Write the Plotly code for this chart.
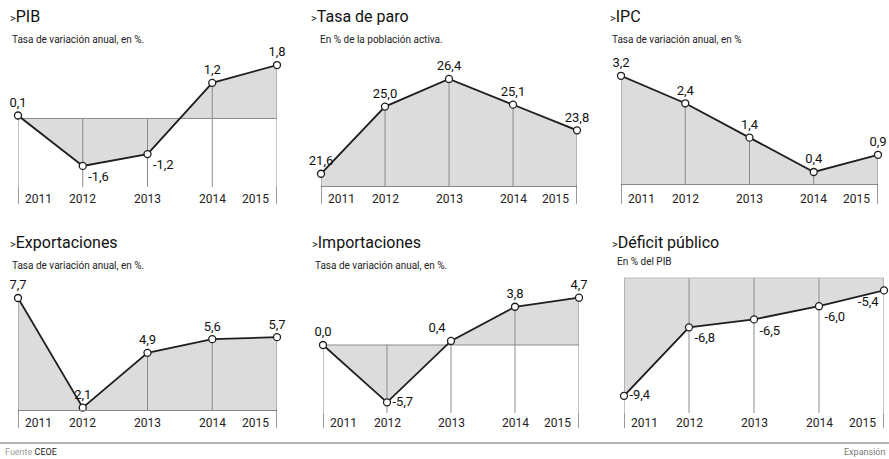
import plotly.graph_objects as go

W, H = 889, 459

years = [2011, 2012, 2013, 2014, 2015]
pib = [0.1, -1.6, -1.2, 1.2, 1.8]
paro = [21.6, 25.0, 26.4, 25.1, 23.8]
ipc = [3.2, 2.4, 1.4, 0.4, 0.9]
exportaciones = [7.7, 2.1, 4.9, 5.6, 5.7]
importaciones = [0.0, -5.7, 0.4, 3.8, 4.7]
deficit = [-9.4, -6.8, -6.5, -6.0, -5.4]

titles = ["PIB", "Tasa de paro", "IPC", "Exportaciones", "Importaciones", "Déficit público"]
subtitles = ["Tasa de variación anual, en %.", "En % de la población activa.",
             "Tasa de variación anual, en %", "Tasa de variación anual, en %.",
             "Tasa de variación anual, en %.", "En % del PIB"]

series = [pib, paro, ipc, exportaciones, importaciones, deficit]

FONT = "Roboto, sans-serif"

panels = [
    dict(x0=18, x1=277, top=60, bot=187, rng=[-2.31, 1.97],
         tp=["top center", "bottom right", "bottom right", "top center", "top center"],
         tx=8, sx=10, ty=16, sy=39, ly=199, zero=True, axis=False),
    dict(x0=321, x1=577, top=60, bot=186, rng=[20.98, 27.36],
         tp=["top center"] * 5, tx=309, sx=318, ty=16, sy=39, ly=199, zero=False, axis=True),
    dict(x0=621, x1=878, top=60, bot=184, rng=[0.05, 3.66],
         tp=["top center"] * 5, tx=608, sx=610, ty=16, sy=39, ly=199, zero=False, axis=True),
    dict(x0=18, x1=277, top=280, bot=410, rng=[1.98, 8.62],
         tp=["top center"] * 5, tx=8, sx=10, ty=242, sy=265, ly=423, zero=False, axis=True),
    dict(x0=323, x1=579, top=280, bot=413, rng=[-6.76, 6.46],
         tp=["top center", "middle right", "top left", "top center", "top center"],
         tx=310, sx=313, ty=242, sy=265, ly=423, zero=True, axis=False),
    dict(x0=624, x1=884, top=278, bot=413, rng=[-10.05, -4.93],
         tp=["middle right", "bottom right", "bottom right", "bottom right", "bottom left"],
         tx=610, sx=615, ty=242, sy=261, ly=423, zero=False, axis=False),
]

def px_x(p):
    return p / W

def px_y(p):
    return 1 - p / H

fig = go.Figure()
shapes = []
annotations = []
LINE = "#1e1e1e"
FILL = "#dcdcdc"
GRID = "#8a8a8a"

for i, (vals, cfg) in enumerate(zip(series, panels)):
    n = i + 1
    xa = "x" if n == 1 else f"x{n}"
    ya = "y" if n == 1 else f"y{n}"
    lo, hi = cfg["rng"]
    labels = [f"{v:.1f}".replace(".", ",") for v in vals]
    # filled area
    fig.add_trace(go.Scatter(
        x=years, y=vals, xaxis=xa, yaxis=ya, mode="lines",
        line=dict(width=0), fill="tozeroy", fillcolor=FILL,
        hoverinfo="skip", showlegend=False))
    # vertical guides
    vx, vy = [], []
    for yr, v in zip(years, vals):
        top_v = min(max(v, 0) if lo < 0 else v, hi)
        vx += [yr, yr, None]
        vy += [lo, top_v, None]
    fig.add_trace(go.Scatter(
        x=vx, y=vy, xaxis=xa, yaxis=ya, mode="lines",
        line=dict(color=GRID, width=1), hoverinfo="skip", showlegend=False))
    if cfg["zero"]:
        fig.add_trace(go.Scatter(
            x=[years[0], years[-1]], y=[0, 0], xaxis=xa, yaxis=ya, mode="lines",
            line=dict(color=GRID, width=1), hoverinfo="skip", showlegend=False))
    # main line
    fig.add_trace(go.Scatter(
        x=years, y=vals, xaxis=xa, yaxis=ya, mode="lines+markers+text",
        line=dict(color=LINE, width=1.8),
        marker=dict(size=7, color="white", line=dict(color=LINE, width=1.3)),
        text=labels, textposition=cfg["tp"],
        textfont=dict(family=FONT, size=13, color="#111"),
        cliponaxis=False, hoverinfo="skip", showlegend=False,
    ))
    fig.update_layout(**{
        ("xaxis" if n == 1 else f"xaxis{n}"): dict(
            domain=[px_x(cfg["x0"]), px_x(cfg["x1"])], range=[2011, 2015],
            anchor=ya, showgrid=False, zeroline=False, showticklabels=False,
            ticks="", showline=cfg["axis"], linecolor=GRID, linewidth=1),
        ("yaxis" if n == 1 else f"yaxis{n}"): dict(
            domain=[px_y(cfg["bot"]), px_y(cfg["top"])], range=[lo, hi],
            anchor=xa, showgrid=False, zeroline=False, showticklabels=False,
            ticks="", showline=False),
    })
    for yr in (years[0], years[-1]):
        shapes.append(dict(type="line", xref=xa, yref="paper", x0=yr, x1=yr,
                           y0=px_y(cfg["bot"]), y1=px_y(cfg["ly"] + 5),
                           line=dict(color="#555", width=1.2)))
    if n == 6:
        shapes.append(dict(type="line", xref=xa, yref="paper", x0=years[0], x1=years[-1],
                           y0=px_y(cfg["top"]), y1=px_y(cfg["top"]),
                           line=dict(color="#bbbbbb", width=1)))
    for j, yr in enumerate(years):
        if j == 0:
            xan, xs = "left", 5
        elif j == len(years) - 1:
            xan, xs = "right", -6
        else:
            xan, xs = "center", 0
        annotations.append(dict(x=yr, y=px_y(cfg["ly"]), xref=xa, yref="paper",
                                text=str(yr), showarrow=False, xanchor=xan, xshift=xs,
                                yanchor="middle",
                                font=dict(family=FONT, size=12, color="#222")))
    annotations.append(dict(x=px_x(cfg["tx"]), y=px_y(cfg["ty"]), xref="paper", yref="paper",
                            text="<span style='font-size:11px'>&gt;</span>" + titles[i],
                            showarrow=False, xanchor="left", yanchor="middle",
                            font=dict(family=FONT, size=16, color="#111")))
    annotations.append(dict(x=px_x(cfg["sx"]), y=px_y(cfg["sy"]), xref="paper", yref="paper",
                            text=subtitles[i], showarrow=False, xanchor="left", yanchor="middle",
                            font=dict(family=FONT, size=10, color="#222")))

shapes.append(dict(type="line", xref="paper", yref="paper", x0=0, x1=1,
                   y0=px_y(443), y1=px_y(443), line=dict(color="#9a9a9a", width=1.5)))
annotations.append(dict(x=px_x(3), y=px_y(452), xref="paper", yref="paper",
                        text="<span style='color:#9a9a9a'>Fuente</span> CEOE",
                        showarrow=False, xanchor="left", yanchor="middle",
                        font=dict(family=FONT, size=9, color="#222")))
annotations.append(dict(x=px_x(887), y=px_y(452), xref="paper", yref="paper",
                        text="Expansión", showarrow=False, xanchor="right", yanchor="middle",
                        font=dict(family=FONT, size=9, color="#777")))

fig.update_layout(width=W, height=H, margin=dict(l=0, r=0, t=0, b=0),
                  paper_bgcolor="white", plot_bgcolor="rgba(0,0,0,0)",
                  shapes=shapes, annotations=annotations, showlegend=False)

fig.write_html("out.html", config={"displayModeBar": False, "staticPlot": True})

with open("out.html", encoding="utf-8") as f:
    html = f.read()
html = html.replace("<head>", "<head><style>html,body{margin:0;padding:0;overflow:hidden;}</style>", 1)
with open("out.html", "w", encoding="utf-8") as f:
    f.write(html)
